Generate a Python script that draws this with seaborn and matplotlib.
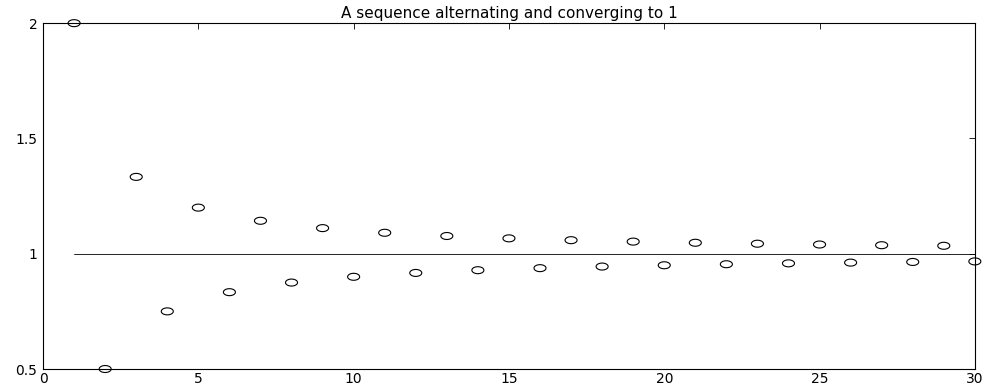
import numpy as np
import pandas as pd
import matplotlib
matplotlib.use("Agg")
import matplotlib.pyplot as plt
from matplotlib.path import Path
import seaborn as sns

n_values = list(range(1, 31))
seq_values = [2.0, 0.5, 1.3333, 0.75, 1.2, 0.8333, 1.1429, 0.875, 1.1111, 0.9,
              1.0909, 0.9167, 1.0769, 0.9286, 1.0667, 0.9375, 1.0588, 0.9444,
              1.0526, 0.95, 1.0476, 0.9545, 1.0435, 0.9583, 1.04, 0.9615,
              1.037, 0.9643, 1.0345, 0.9667]
limit_value = 1.0
title_text = "A sequence alternating and converging to 1"
xticks = [0, 5, 10, 15, 20, 25, 30]
yticks = [0.5, 1, 1.5, 2]
ytick_labels = ["0.5", "1", "1.5", "2"]

df = pd.DataFrame({"n": n_values, "a": seq_values})

sns.set_style("white")
plt.rcParams["font.family"] = ["DejaVu Sans"]
plt.rcParams["text.color"] = "black"

fig = plt.figure(figsize=(9.85, 3.86), dpi=100)
ax = fig.add_axes([0.0437, 0.044, 0.946, 0.896])

# horizontal limit line
ax.plot([n_values[0], n_values[-1]], [limit_value, limit_value], color="black", lw=0.6)

t = np.linspace(0, 2 * np.pi, 60)
ellipse = Path(np.column_stack([np.cos(t), 0.58 * np.sin(t)]), closed=False)

sns.scatterplot(data=df, x="n", y="a", marker=ellipse, s=75, facecolors="none",
                edgecolor="black", linewidth=0.8, ax=ax, clip_on=False, zorder=3)
for c in ax.collections:
    c.set_facecolor("none")
    c.set_edgecolor("black")

ax.set_xlim(0, 30)
ax.set_ylim(0.5, 2)
ax.set_xticks(xticks)
ax.set_yticks(yticks)
ax.set_yticklabels(ytick_labels)
ax.set_xlabel("")
ax.set_ylabel("")
ax.tick_params(direction="in", length=4, width=0.6, top=True, right=True,
               labelsize=10, colors="black", pad=4)
ax.tick_params(axis="x", pad=2)
for s in ax.spines.values():
    s.set_visible(True)
    s.set_color("black")
    s.set_linewidth(0.8)
ax.set_title(title_text, fontsize=11, pad=4, color="black")

fig.savefig("out.png", dpi=100)
